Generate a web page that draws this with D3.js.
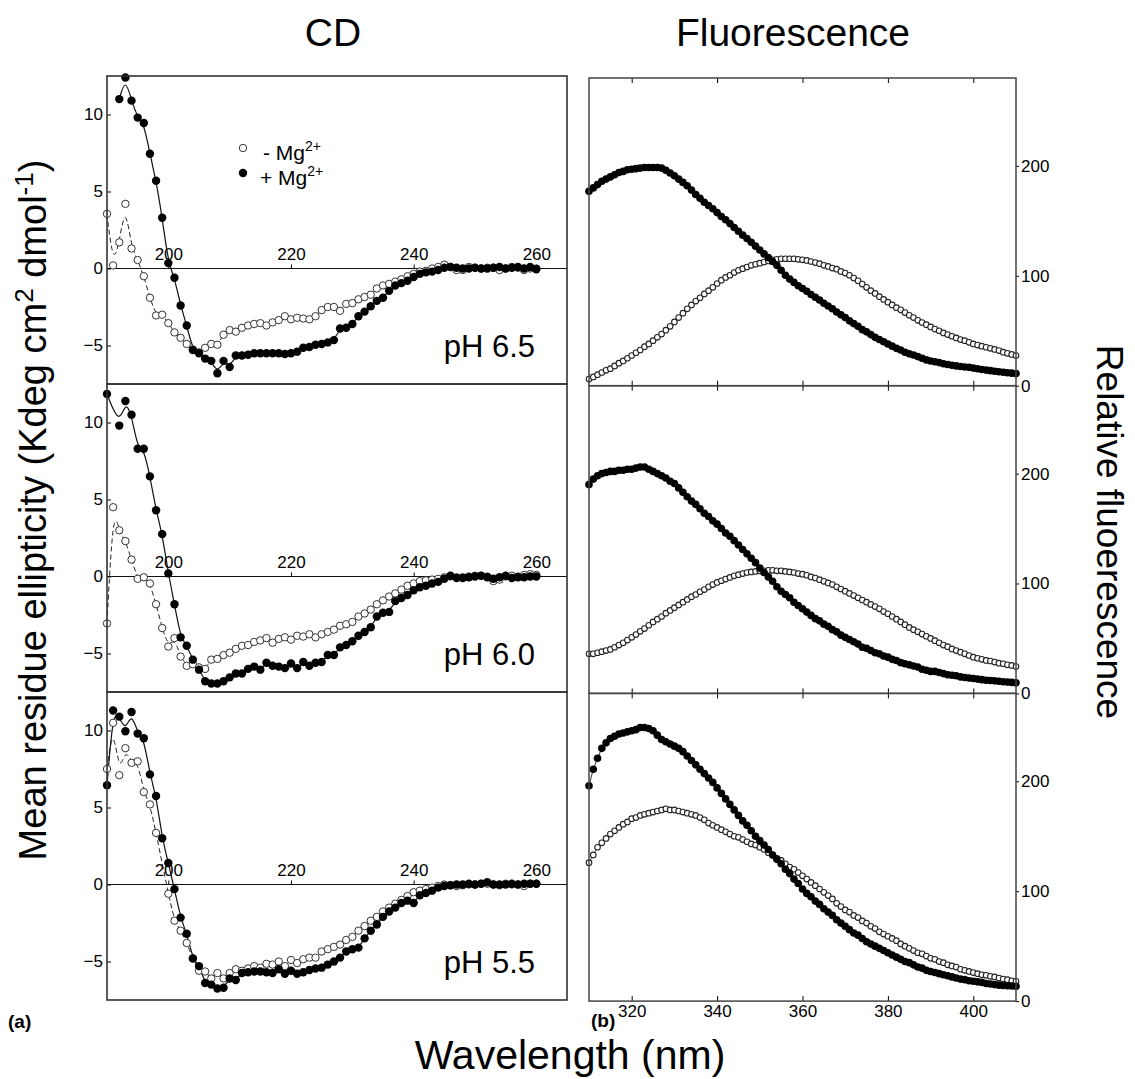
<!DOCTYPE html>
<html>
<head>
<meta charset="utf-8">
<script src="https://cdn.jsdelivr.net/npm/d3@7"></script>
<style>
  body { margin: 0; background: #fff; }
  svg text { font-family: "Liberation Sans", Arial, Helvetica, sans-serif; }
</style>
</head>
<body>
<div id="container"></div>
<script>
/* CONSTANTS AND GLOBALS */
const width = 1135
const height = 1079

// CD panels (left) and fluorescence panels (right)
const cd = { left: 107, right: 567, top: 76, h: 308 }
const fl = { left: 589, right: 1016, top: 78, h: 307.7 }

/* DATA */
// CD: one value per nm, 190..260 nm (null = no point)
const cdStart = 190
const cdTicksX = [200, 220, 240, 260]
const cdTicksY = [-5, 0, 5, 10]
const phLabels = ["pH 6.5", "pH 6.0", "pH 5.5"]

const cd65Minus = [3.55, 0.2, 1.7, 4.2, 1.3, 0.55, -0.5, -1.9, -3.05, -3.0,
  -3.55, -4.15, -4.5, -4.9, -5.25, -5.45, -5.15, -4.9, -4.95, -4.3,
  -4.0, -4.1, -3.85, -3.7, -3.6, -3.55, -3.7, -3.5, -3.35, -3.1,
  -3.3, -3.2, -3.25, -3.3, -3.1, -2.7, -2.5, -2.5, -2.75, -2.3,
  -2.25, -2.0, -1.85, -1.7, -1.3, -1.1, -1.0, -0.85, -0.7, -0.5,
  -0.35, -0.2, -0.15, 0.0, 0.1, 0.25, 0.1, -0.1, -0.1, 0.1,
  0.05, 0.0, 0.05, 0.05, -0.1, 0.0, 0.1, 0.05, -0.1, 0.0, 0.0]
const cd65Plus = [null, null, 11.0, 12.4, 10.9, 9.8, 9.45, 7.45, 5.7, 3.3,
  0.35, -0.6, -2.4, -3.7, -5.3, -5.5, -5.85, -6.0, -6.8, -6.0,
  -6.4, -5.65, -5.65, -5.6, -5.5, -5.5, -5.5, -5.5, -5.5, -5.55,
  -5.5, -5.4, -5.15, -5.1, -4.95, -4.9, -4.8, -4.65, -3.9, -3.85,
  -3.6, -3.1, -2.8, -2.45, -2.1, -1.9, -1.45, -1.1, -0.95, -0.8,
  -0.55, -0.35, -0.25, -0.2, -0.1, 0.05, 0.1, 0.05, 0.0, 0.0,
  0.05, 0.0, 0.0, 0.05, 0.1, 0.0, 0.05, 0.1, 0.0, 0.1, -0.05]
const cd60Minus = [-3.05, 4.5, 3.0, 2.3, 1.1, -0.15, -0.05, -0.45, -1.8, -3.35,
  -4.55, -4.0, -5.2, -5.8, -5.7, -5.9, -6.0, -5.4, -5.35, -5.1,
  -4.95, -4.7, -4.5, -4.45, -4.25, -4.15, -4.0, -4.3, -4.05, -3.95,
  -4.1, -3.85, -3.9, -3.75, -3.95, -3.75, -3.6, -3.45, -3.2, -3.1,
  -2.95, -2.6, -2.4, -2.15, -1.8, -1.55, -1.3, -1.1, -0.85, -0.6,
  -0.45, -0.3, -0.25, -0.2, -0.15, -0.05, 0.0, -0.05, -0.05, 0.0,
  0.05, 0.05, 0.0, -0.3, -0.2, 0.0, 0.05, 0.0, 0.1, 0.15, 0.1]
const cd60Plus = [11.85, null, 9.8, 11.4, 10.5, 8.3, 8.3, 6.5, 4.3, 2.75,
  0.2, -1.8, -3.95, -4.5, -5.4, -6.05, -6.8, -6.95, -6.95, -6.8,
  -6.55, -6.3, -6.3, -6.0, -5.85, -6.05, -5.6, -5.8, -5.85, -5.95,
  -5.65, -5.95, -5.55, -5.8, -5.6, -5.55, -5.1, -5.1, -4.6, -4.45,
  -4.2, -3.85, -3.6, -3.3, -2.6, -2.35, -2.3, -1.6, -1.4, -1.2,
  -0.9, -0.7, -0.6, -0.45, -0.35, -0.15, 0.05, -0.1, -0.1, -0.05,
  0.0, 0.05, -0.05, -0.15, -0.05, 0.05, -0.1, -0.05, -0.05, 0.0, 0.0]
const cd55Minus = [7.5, 10.5, 7.1, 8.85, 7.9, 8.0, 6.0, 5.2, 3.35, null,
  -0.6, -2.35, -3.0, -3.8, -4.8, -5.6, -5.65, -6.1, -5.75, -6.1,
  -5.75, -5.5, -5.6, -5.45, -5.3, -5.4, -5.15, -5.2, -5.0, -5.3,
  -4.9, -5.1, -4.85, -4.75, -4.75, -4.35, -4.2, -4.05, -3.9, -3.6,
  -3.4, -3.0, -2.7, -2.35, -2.1, -1.75, -1.5, -1.25, -1.0, -0.75,
  -0.5, -0.4, -0.3, -0.2, -0.1, 0.0, -0.05, -0.1, -0.05, 0.0,
  0.0, 0.05, 0.05, 0.0, -0.05, 0.05, 0.0, 0.0, -0.1, 0.05, 0.05]
const cd55Plus = [6.45, 11.3, 10.9, 9.95, 11.2, 9.8, 9.5, 7.15, 5.75, 3.0,
  1.4, -0.3, -2.15, -3.2, -4.8, -5.3, -6.4, -6.5, -6.75, -6.7,
  -6.1, -6.2, -5.75, -5.7, -5.65, -5.65, -5.7, -5.75, -5.5, -5.8,
  -5.6, -5.8, -5.7, -5.55, -5.45, -5.4, -5.2, -5.0, -4.75, -4.35,
  -4.2, -4.1, -3.5, -3.0, -2.6, -2.1, -1.75, -1.5, -1.2, -1.05,
  -1.2, -0.7, -0.55, -0.4, -0.2, -0.1, -0.05, 0.0, 0.0, 0.05,
  0.0, 0.05, 0.15, 0.0, 0.0, 0.0, 0.05, 0.0, 0.05, 0.05, 0.05]

// Fluorescence: one value per nm, 310..410 nm
const flStart = 310
const flTicksX = [320, 340, 360, 380, 400]
const flTicksY = [0, 100, 200]

const fl65Minus = [6, 8, 10, 12, 14, 15.5, 18, 20.5, 22.5, 25,
  27.5, 30, 32.5, 35.5, 38, 41, 44, 47, 50.5, 54,
  58, 62, 66, 70, 73.5, 77, 80, 83.5, 86.5, 89.5,
  93, 96, 98.5, 100.5, 103, 105, 106.5, 108, 109.5, 110.5,
  111.5, 112.5, 113.5, 114.5, 115, 115.5, 115.5, 115.5, 115.5, 115,
  114.5, 114, 113, 112, 111, 109.5, 108.5, 107, 106, 104,
  102.5, 100.5, 98, 95.5, 92.5, 89.5, 86.5, 84, 81, 78.5,
  76, 73.5, 71, 69, 66.5, 64, 62, 59.5, 57.5, 55.5,
  53.5, 51.5, 50, 48, 46.5, 45, 43.5, 42, 41, 39.5,
  38, 37, 36, 35, 34, 33, 32, 30.5, 29.5, 28.5, 27.5]
const fl65Plus = [177, 180, 183, 186, 188, 190, 192, 194, 195, 196.5,
  197, 197.5, 198, 198.5, 198.5, 198.5, 198.5, 198, 196, 193.5,
  191, 188, 185, 182, 178, 174, 170.5, 167, 164, 161,
  157.5, 154, 151, 147.5, 144, 140.5, 137, 134, 130.5, 127,
  123.5, 120, 116.5, 113, 109.5, 105, 100.5, 97, 94, 91,
  88.5, 86, 83, 80.5, 78, 75, 72.5, 70, 67, 64.5,
  62, 59, 56.5, 54, 51, 49, 46.5, 44, 42, 40,
  38, 36, 34, 32.5, 30.5, 29, 28, 26.5, 25, 23.5,
  22.5, 21.8, 21, 20, 19.3, 18.6, 18, 17.5, 17, 16.7,
  16, 15.4, 14.8, 14.2, 13.7, 13.2, 12.7, 12.2, 11.8, 11.4, 11]
const fl60Minus = [36, 36, 37, 38, 39, 40, 42, 44, 46, 48.5,
  51, 53.5, 56.5, 59, 62, 65, 67.5, 70, 73, 75.5,
  78, 80.5, 83, 85.5, 88, 90, 92.5, 94.5, 97, 99,
  101, 102.5, 104, 105.5, 107, 108, 109, 110, 110.5, 111,
  111.5, 111.5, 112, 112, 111.5, 111.5, 111, 110.5, 110, 109,
  108.5, 107.5, 106, 105, 103.5, 102, 100.5, 99, 97, 95,
  93, 91, 89, 87, 85, 83, 81, 79, 77, 74.5,
  72.5, 70, 67.5, 65, 62.5, 60, 58, 56, 54, 52,
  50, 48, 46, 44, 42.5, 40.5, 39, 37.5, 36, 34.5,
  33, 32, 31, 30, 29.5, 28.5, 27.5, 27, 26, 25.5, 24.5]
const fl60Plus = [190, 195, 198, 200, 201, 202, 202, 203, 203, 204,
  204, 205, 206, 206, 204, 202, 200, 198, 196, 193,
  191, 187, 183, 179, 175, 172, 168, 164, 161, 157,
  154, 150, 146, 143, 139, 135, 131, 127, 123, 119,
  114, 110, 106, 102, 97, 93, 90, 87, 83, 80,
  77, 74, 71, 68, 66, 63, 61, 58, 56, 53,
  51, 49, 47, 45, 42, 41, 39, 37, 36, 34,
  33, 31, 30, 28, 27, 26, 25, 24, 22, 21,
  20, 20, 19, 18, 17, 16.5, 16, 15, 14.5, 14,
  13.5, 13, 12.5, 12, 11.7, 11.4, 11, 10.6, 10.3, 10, 9.6]
const fl55Minus = [126, 133, 140, 144, 148, 152, 155, 158, 161, 163,
  166, 167, 169, 170, 171, 172, 173, 174, 175, 174,
  174, 173, 172, 171, 170, 169, 167, 165, 162, 160,
  158, 156, 154, 152, 150, 149, 147, 145, 143, 142,
  140, 138, 135, 133, 130, 128, 125, 122, 120, 117,
  114, 111, 108, 105, 102, 99, 96, 93, 89, 86,
  83, 81, 78, 76, 73, 71, 68, 66, 63, 61,
  59, 57, 55, 52, 50, 48, 46, 44, 43, 41,
  39, 38, 36, 35, 33, 32, 31, 29, 28, 27,
  26, 25, 24, 23.5, 22.5, 22, 21, 20, 19.5, 18.5, 18]
const fl55Plus = [196, 211, 221, 230, 235, 239, 241, 243, 244, 245,
  246, 247, 249, 249, 248, 246, 242, 238, 236, 234,
  232, 230, 227, 223, 219, 215, 211, 207, 203, 199,
  194, 189, 184, 179, 174, 169, 164, 160, 155, 150,
  146, 142, 138, 133, 129, 125, 120, 116, 111, 107,
  102, 98, 95, 91, 88, 84, 81, 78, 74, 71,
  68, 65, 62, 60, 57, 54, 52, 50, 48, 46,
  44, 42, 40, 38, 36, 35, 33, 31, 30, 28,
  27, 26, 25, 24, 23, 22, 21, 20, 19.5, 18.5,
  18, 17.5, 17, 16, 15.5, 15, 14.5, 14.2, 14, 13.7, 13.5]

const cdPanels = [
  { ph: phLabels[0], minus: cd65Minus, plus: cd65Plus },
  { ph: phLabels[1], minus: cd60Minus, plus: cd60Plus },
  { ph: phLabels[2], minus: cd55Minus, plus: cd55Plus },
]
const flPanels = [
  { minus: fl65Minus, plus: fl65Plus },
  { minus: fl60Minus, plus: fl60Plus },
  { minus: fl55Minus, plus: fl55Plus },
]

const toPoints = (arr, start) => arr.map((v, i) => ({ x: start + i, y: v }))
const fontFam = "Liberation Sans, Arial, sans-serif"

/* CREATE SVG ELEMENT */
const svg = d3.select("#container")
  .append("svg")
  .attr("width", width)
  .attr("height", height)

/* CD PANELS */
const cdX = d3.scaleLinear().domain([190, 265]).range([cd.left, cd.right])

cdPanels.forEach((p, i) => {
  const top = cd.top + i * cd.h
  const bottom = top + cd.h
  const y = d3.scaleLinear().domain([-7.5, 12.5]).range([bottom, top])
  const g = svg.append("g").attr("class", "cdPanel")

  const minusPts = toPoints(p.minus, cdStart).filter(d => d.y !== null)
  const plusPts = toPoints(p.plus, cdStart).filter(d => d.y !== null)

  // zero line
  g.append("line")
    .attr("x1", cd.left).attr("x2", cd.right)
    .attr("y1", y(0)).attr("y2", y(0))
    .attr("stroke", "#111").attr("stroke-width", 1.2)

  // x axis sits on the zero line, labels above
  const xAxis = g.append("g")
    .attr("transform", `translate(0, ${y(0)})`)
    .call(d3.axisTop(cdX).tickValues(cdTicksX).tickSizeInner(4).tickSizeOuter(0).tickPadding(5))
  xAxis.select(".domain").remove()
  xAxis.attr("font-size", 17).attr("font-family", fontFam)

  const yAxis = g.append("g")
    .attr("transform", `translate(${cd.left}, 0)`)
    .call(d3.axisLeft(y).tickValues(cdTicksY).tickSizeInner(-4).tickSizeOuter(0).tickPadding(4))
  yAxis.select(".domain").remove()
  yAxis.attr("font-size", 17).attr("font-family", fontFam)

  // smoothed lines
  const line = d3.line()
    .x(d => cdX(d.x))
    .y(d => y(d.y))
    .curve(d3.curveBasis)

  g.append("path")
    .datum(minusPts)
    .attr("fill", "none").attr("stroke", "#222").attr("stroke-width", 1)
    .attr("stroke-dasharray", "5,3")
    .attr("d", line)

  g.append("path")
    .datum(plusPts)
    .attr("fill", "none").attr("stroke", "#111").attr("stroke-width", 1.2)
    .attr("d", line)

  g.selectAll(".minus")
    .data(minusPts)
    .join("circle")
    .attr("class", "minus")
    .attr("cx", d => cdX(d.x)).attr("cy", d => y(d.y))
    .attr("r", 3.7)
    .attr("fill", "#fff").attr("stroke", "#333").attr("stroke-width", 1)

  g.selectAll(".plus")
    .data(plusPts)
    .join("circle")
    .attr("class", "plus")
    .attr("cx", d => cdX(d.x)).attr("cy", d => y(d.y))
    .attr("r", 4.2)
    .attr("fill", "#000")

  // frame
  g.append("rect")
    .attr("x", cd.left).attr("y", top)
    .attr("width", cd.right - cd.left).attr("height", cd.h)
    .attr("fill", "none").attr("stroke", "#333").attr("stroke-width", 1.6)

  g.append("text")
    .attr("x", 535).attr("y", bottom - 27)
    .attr("text-anchor", "end")
    .attr("font-size", 31)
    .text(p.ph)
})

// LEGEND (top CD panel)
const legend = svg.append("g")
legend.append("circle").attr("cx", 243).attr("cy", 148).attr("r", 3.7)
  .attr("fill", "#fff").attr("stroke", "#333")
legend.append("circle").attr("cx", 243).attr("cy", 173).attr("r", 4.2)
  .attr("fill", "#000")
const l1 = legend.append("text").attr("x", 263).attr("y", 160).attr("font-size", 21)
l1.append("tspan").text("- Mg")
l1.append("tspan").attr("font-size", 14).attr("dy", -9).text("2+")
const l2 = legend.append("text").attr("x", 260).attr("y", 185).attr("font-size", 21)
l2.append("tspan").text("+ Mg")
l2.append("tspan").attr("font-size", 14).attr("dy", -9).text("2+")

/* FLUORESCENCE PANELS */
const flX = d3.scaleLinear().domain([310, 410]).range([fl.left, fl.right])

flPanels.forEach((p, i) => {
  const top = fl.top + i * fl.h
  const bottom = top + fl.h
  const y = d3.scaleLinear().domain([0, 280]).range([bottom, top])
  const g = svg.append("g").attr("class", "flPanel")

  const minusPts = toPoints(p.minus, flStart)
  const plusPts = toPoints(p.plus, flStart)

  const line = d3.line().x(d => flX(d.x)).y(d => y(d.y))

  g.append("path").datum(minusPts)
    .attr("fill", "none").attr("stroke", "#333").attr("stroke-width", 0.8)
    .attr("d", line)
  g.append("path").datum(plusPts)
    .attr("fill", "none").attr("stroke", "#000").attr("stroke-width", 0.8)
    .attr("d", line)

  g.selectAll(".minus")
    .data(minusPts)
    .join("circle")
    .attr("class", "minus")
    .attr("cx", d => flX(d.x)).attr("cy", d => y(d.y))
    .attr("r", 2.8)
    .attr("fill", "#fff").attr("stroke", "#222").attr("stroke-width", 1.1)

  g.selectAll(".plus")
    .data(plusPts)
    .join("circle")
    .attr("class", "plus")
    .attr("cx", d => flX(d.x)).attr("cy", d => y(d.y))
    .attr("r", 3.8)
    .attr("fill", "#000")

  // inward ticks top and bottom
  const topAxis = g.append("g")
    .attr("transform", `translate(0, ${top})`)
    .call(d3.axisTop(flX).tickValues(flTicksX).tickSizeInner(-5).tickSizeOuter(0).tickFormat(""))
  topAxis.select(".domain").remove()

  const botAxis = g.append("g")
    .attr("transform", `translate(0, ${bottom})`)
    .call(d3.axisBottom(flX).tickValues(flTicksX).tickSizeInner(-5).tickSizeOuter(0).tickPadding(4)
      .tickFormat(i === flPanels.length - 1 ? d3.format("d") : ""))
  botAxis.select(".domain").remove()
  botAxis.attr("font-size", 17).attr("font-family", fontFam)

  const rAxis = g.append("g")
    .attr("transform", `translate(${fl.right}, 0)`)
    .call(d3.axisRight(y).tickValues(flTicksY).tickSizeInner(3).tickSizeOuter(0).tickPadding(2))
  rAxis.select(".domain").remove()
  rAxis.attr("font-size", 17).attr("font-family", fontFam)

  g.append("rect")
    .attr("x", fl.left).attr("y", top)
    .attr("width", fl.right - fl.left).attr("height", fl.h)
    .attr("fill", "none").attr("stroke", "#444").attr("stroke-width", 1.5)
})

/* TITLES AND LABELS */
svg.append("text").attr("x", 333).attr("y", 46)
  .attr("text-anchor", "middle").attr("font-size", 39).text("CD")
svg.append("text").attr("x", 793).attr("y", 46)
  .attr("text-anchor", "middle").attr("font-size", 39).text("Fluorescence")

svg.append("text").attr("x", 570).attr("y", 1069)
  .attr("text-anchor", "middle").attr("font-size", 41).text("Wavelength (nm)")

svg.append("text").attr("x", 8).attr("y", 1028)
  .attr("font-size", 19).attr("font-weight", "bold").text("(a)")
svg.append("text").attr("x", 591).attr("y", 1027)
  .attr("font-size", 19).attr("font-weight", "bold").text("(b)")

const yLabel = svg.append("text")
  .attr("transform", `translate(46, 510) rotate(-90)`)
  .attr("text-anchor", "middle")
  .attr("font-size", 38)
yLabel.append("tspan").text("Mean residue ellipticity (Kdeg cm")
yLabel.append("tspan").attr("font-size", 26).attr("dy", -13).text("2")
yLabel.append("tspan").attr("dy", 13).text(" dmol")
yLabel.append("tspan").attr("font-size", 26).attr("dy", -13).text("-1")
yLabel.append("tspan").attr("dy", 13).text(")")

svg.append("text")
  .attr("transform", `translate(1097, 532) rotate(90)`)
  .attr("text-anchor", "middle")
  .attr("font-size", 37)
  .text("Relative fluoerescence")
</script>
</body>
</html>
